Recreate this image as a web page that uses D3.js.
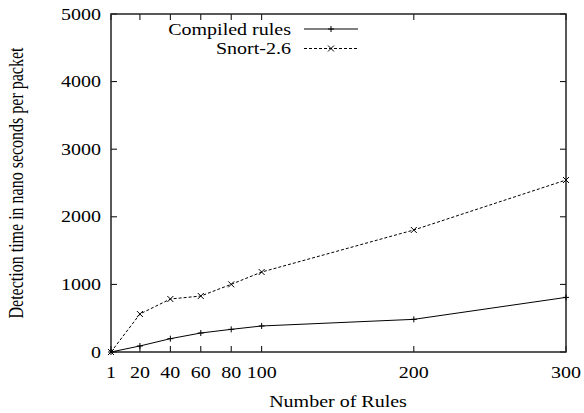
<!DOCTYPE html>
<html><head><meta charset="utf-8">
<script src="https://cdn.jsdelivr.net/npm/d3@7"></script>
<style>body{margin:0;background:#fff}svg{display:block}</style>
</head><body>
<svg id="c" width="584" height="413"></svg>
<script>
const rules = [1, 20, 40, 60, 80, 100, 200, 300];
const compiled = [0, 89, 197, 281, 335, 385, 483, 808];
const snort = [0, 562, 784, 828, 1001, 1183, 1805, 2544];
const xTicks = [1, 20, 40, 60, 80, 100, 200, 300];
const yTicks = [0, 1000, 2000, 3000, 4000, 5000];
const seriesNames = ["Compiled rules", "Snort-2.6"];

const FONT = "'Liberation Serif', Tinos, 'Times New Roman', Times, 'DejaVu Serif', serif";
const svg = d3.select("#c");
const m = {l: 111, r: 566, t: 14, b: 352};
const x = d3.scaleLinear().domain([1, 300]).range([m.l, m.r]);
const y = d3.scaleLinear().domain([0, 5000]).range([m.b, m.t]);

function label(px, py, txt, anchor, rot) {
  const tr = rot ? `translate(${px},${py}) rotate(-90) scale(1,1.25)` : `translate(${px},${py}) scale(1.25,1)`;
  return svg.append("text").attr("transform", tr).attr("text-anchor", anchor)
    .attr("font-family", FONT).attr("font-size", 16).attr("fill", "#000").text(txt);
}

const tl = 6;
xTicks.forEach(v => {
  svg.append("line").attr("x1", x(v)).attr("x2", x(v)).attr("y1", m.b).attr("y2", m.b - tl).attr("stroke", "#000");
  svg.append("line").attr("x1", x(v)).attr("x2", x(v)).attr("y1", m.t).attr("y2", m.t + tl).attr("stroke", "#000");
  label(x(v), 378, v, "middle");
});
yTicks.forEach(v => {
  svg.append("line").attr("x1", m.l).attr("x2", m.l + tl).attr("y1", y(v)).attr("y2", y(v)).attr("stroke", "#000");
  svg.append("line").attr("x1", m.r).attr("x2", m.r - tl).attr("y1", y(v)).attr("y2", y(v)).attr("stroke", "#000");
  label(101, y(v) + 5.5, v, "end");
});
svg.append("rect").attr("x", m.l).attr("y", m.t).attr("width", m.r - m.l).attr("height", m.b - m.t)
  .attr("fill", "none").attr("stroke", "#222").attr("stroke-width", 1.5);

const line = d3.line().x((d, i) => x(rules[i])).y(d => y(d));
function plus(sel, cx, cy) {
  sel.append("path").attr("d", `M${cx-3},${cy}H${cx+3}M${cx},${cy-3}V${cy+3}`).attr("stroke", "#000").attr("stroke-width", 1);
}
function cross(sel, cx, cy) {
  sel.append("path").attr("d", `M${cx-3},${cy-3}L${cx+3},${cy+3}M${cx-3},${cy+3}L${cx+3},${cy-3}`).attr("stroke", "#000").attr("stroke-width", 1);
}
svg.append("path").datum(compiled).attr("d", line).attr("fill", "none").attr("stroke", "#000").attr("stroke-width", 1);
svg.append("path").datum(snort).attr("d", line).attr("fill", "none").attr("stroke", "#000").attr("stroke-width", 1).attr("stroke-dasharray", "3,2");
compiled.forEach((d, i) => plus(svg, x(rules[i]), y(d)));
snort.forEach((d, i) => cross(svg, x(rules[i]), y(d)));

const leg = [{n: seriesNames[0], y: 29, dash: null, mk: plus}, {n: seriesNames[1], y: 48.5, dash: "3,2", mk: cross}];
leg.forEach(l => {
  label(291, l.y + 5.5, l.n, "end");
  const ln = svg.append("line").attr("x1", 304).attr("x2", 358).attr("y1", l.y).attr("y2", l.y).attr("stroke", "#000");
  if (l.dash) ln.attr("stroke-dasharray", l.dash);
  l.mk(svg, 331, l.y);
});

label(338, 407, "Number of Rules", "middle");
label(23, 183, "Detection time in nano seconds per packet", "middle", true);
</script>
</body></html>
